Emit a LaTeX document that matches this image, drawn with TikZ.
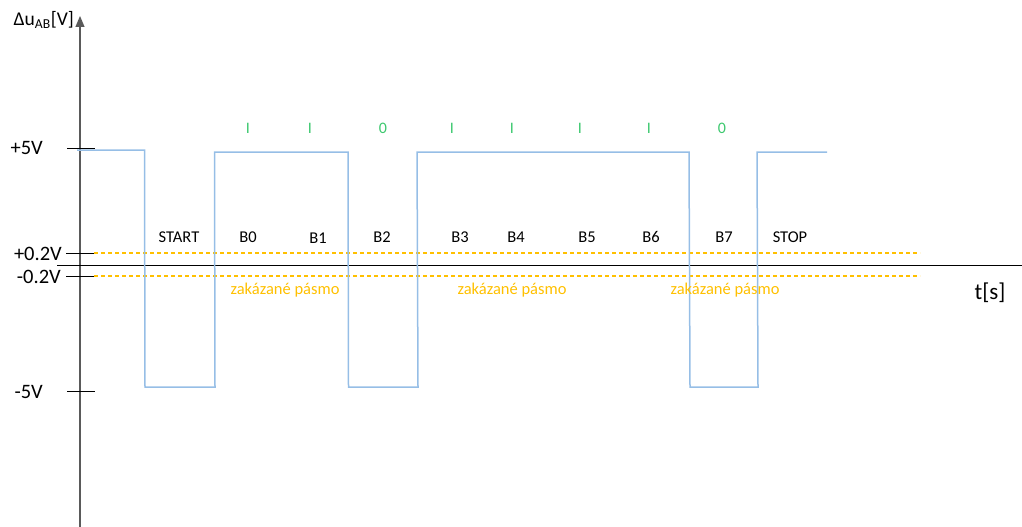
\documentclass[tikz,border=0pt]{standalone}
\usepackage{fontspec}
\setmainfont{Carlito}
\usetikzlibrary{arrows.meta}
\definecolor{sig}{RGB}{150,190,230}
\definecolor{band}{RGB}{255,192,0}
\definecolor{bitc}{RGB}{60,200,110}
\definecolor{axg}{RGB}{90,90,90}
\begin{document}
\begin{tikzpicture}[x=1pt,y=-1pt,
  lbl/.style={font=\fontsize{16.5}{16.5}\selectfont, inner sep=0pt},
  vlab/.style={font=\fontsize{20.5}{20.5}\selectfont, inner sep=0pt},
  bit/.style={font=\fontsize{16}{16}\selectfont, text=bitc, inner sep=0pt},
  zak/.style={font=\fontsize{16.5}{16.5}\selectfont, text=band, inner sep=0pt},
  tick/.style={draw=black, line width=1pt},
  bandline/.style={draw=band, line width=1.4pt, dash pattern=on 4pt off 3pt},
  sigline/.style={draw=sig, line width=1.5pt}]
\useasboundingbox (0,0) rectangle (1022,527);
% axes
\coordinate (ybot) at (80,527);
\coordinate (ytop) at (80,16);
\draw[axg, line width=1.2pt, -{Triangle[width=9pt,length=11pt]}] (ybot) -- (ytop);
\coordinate (xl) at (57,265);
\coordinate (xr) at (1022,265);
\draw[black, line width=1pt] (xl) -- (xr);
% ticks
\coordinate (t1a) at (67,148); \coordinate (t1b) at (95,148);
\coordinate (t2a) at (66,253); \coordinate (t2b) at (94,253);
\coordinate (t3a) at (66,276); \coordinate (t3b) at (94,276);
\coordinate (t4a) at (67,391); \coordinate (t4b) at (95,391);
\draw[tick] (t1a) -- (t1b);
\draw[tick] (t2a) -- (t2b);
\draw[tick] (t3a) -- (t3b);
\draw[tick] (t4a) -- (t4b);
% axis labels
\node[vlab, anchor=east] (l5) at (43,148) {+5V};
\node[vlab, anchor=east] (l02) at (62,254) {+0.2V};
\node[vlab, anchor=east] (lm02) at (61,277) {-0.2V};
\node[vlab, anchor=east] (lm5) at (43,392) {-5V};
\node[font=\fontsize{19.5}{19.5}\selectfont, inner sep=0pt, anchor=east] (ylab) at (74,20) {Δu\textsubscript{AB}[V]};
\node[font=\fontsize{23}{23}\selectfont, inner sep=0pt] (xlab) at (990,293) {t[s]};
% forbidden band
\coordinate (b1a) at (94,253); \coordinate (b1b) at (920,253);
\coordinate (b2a) at (94,276); \coordinate (b2b) at (920,276);
\draw[bandline] (b1a) -- (b1b);
\draw[bandline] (b2a) -- (b2b);
% signal
\draw[sigline] (77,150) -- (144.5,150) -- (145,387) -- (215,387) -- (214.5,152) -- (348,152) -- (348.5,387) -- (418,387) -- (417,152) -- (689,152) -- (690,387) -- (758,387) -- (757,152) -- (827,152);
% bit values
\node[bit] (v0) at (248,128) {I};
\node[bit] (v1) at (310,128) {I};
\node[bit] (v2) at (383,128) {0};
\node[bit] (v3) at (452,128) {I};
\node[bit] (v4) at (512,128) {I};
\node[bit] (v5) at (580,128) {I};
\node[bit] (v6) at (649,128) {I};
\node[bit] (v7) at (722,128) {0};
% bit names
\node[lbl] (nstart) at (179,237) {START};
\node[lbl] (n0) at (248,237) {B0};
\node[lbl] (n1) at (318,238) {B1};
\node[lbl] (n2) at (382,237) {B2};
\node[lbl] (n3) at (460,237) {B3};
\node[lbl] (n4) at (516,237) {B4};
\node[lbl] (n5) at (587,237) {B5};
\node[lbl] (n6) at (651,237) {B6};
\node[lbl] (n7) at (724,237) {B7};
\node[lbl] (nstop) at (790,237) {STOP};
% forbidden band labels
\node[zak] (z1) at (285,290) {zakázané pásmo};
\node[zak] (z2) at (512,290) {zakázané pásmo};
\node[zak] (z3) at (725,290) {zakázané pásmo};
\end{tikzpicture}
\end{document}
